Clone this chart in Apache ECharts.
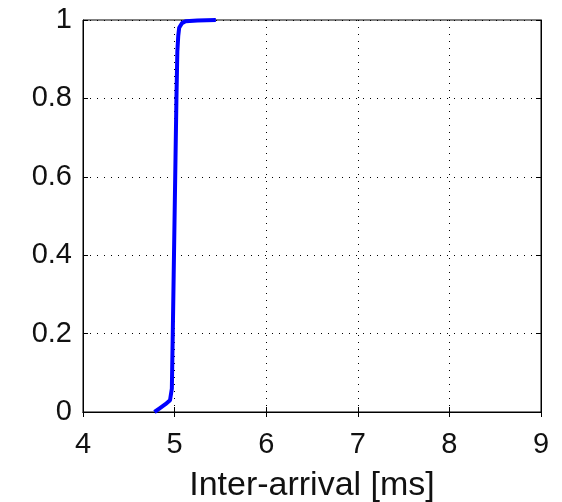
<!DOCTYPE html>
<html>
<head>
<meta charset="utf-8">
<title>CDF</title>
<script src="https://cdn.jsdelivr.net/npm/echarts@6/dist/echarts.min.js"></script>
<style>
  html, body { margin: 0; padding: 0; background: #fff; }
  #main { width: 562px; height: 502px; }
</style>
</head>
<body>
<div id="main"></div>
<script>
// inter-arrival time (ms) and cumulative probability
var interArrival = [4.78, 4.84, 4.90, 4.95, 4.97, 4.98, 4.99, 5.00, 5.01, 5.02, 5.03, 5.04, 5.05, 5.08, 5.12, 5.25, 5.45];
var cdf          = [0.00, 0.01, 0.02, 0.03, 0.06, 0.20, 0.35, 0.50, 0.65, 0.80, 0.92, 0.96, 0.98, 0.992, 0.997, 0.999, 1.00];
var xTicks = [4, 5, 6, 7, 8, 9];
var yTicks = [0, 0.2, 0.4, 0.6, 0.8, 1];

var points = [];
for (var i = 0; i < interArrival.length; i++) {
    points.push([interArrival[i], cdf[i]]);
}

var labelFont = { color: '#111', fontSize: 29, fontFamily: 'Liberation Sans' };
var chart = echarts.init(document.getElementById('main'));
chart.setOption({
    animation: false,
    grid: {
        left: 83, top: 20, width: 458, height: 392,
        outerBoundsMode: 'none', containLabel: false,
        show: true, borderColor: '#000', borderWidth: 1, backgroundColor: '#fff'
    },
    xAxis: [{
        type: 'value', min: 4, max: 9, interval: 1,
        name: 'Inter-arrival [ms]', nameLocation: 'middle', nameGap: 57,
        nameTextStyle: { color: '#111', fontSize: 34, fontFamily: 'Liberation Sans' },
        axisLine: { show: true, lineStyle: { color: '#000', width: 1 } },
        axisTick: { inside: true, length: 5, lineStyle: { color: '#000' } },
        axisLabel: Object.assign({ margin: 18, formatter: function (v) { return xTicks.indexOf(v) >= 0 ? String(v) : ''; } }, labelFont),
        splitLine: { show: true, lineStyle: { color: '#000', type: [1, 6], width: 1 } }
    }, {
        type: 'value', position: 'top', min: 4, max: 9, interval: 1,
        axisLine: { show: true, lineStyle: { color: '#000' } },
        axisTick: { inside: true, length: 5, lineStyle: { color: '#000' } },
        axisLabel: { show: false }, splitLine: { show: false }
    }],
    yAxis: [{
        type: 'value', min: 0, max: 1, interval: 0.2,
        axisLine: { show: true, lineStyle: { color: '#000', width: 1 } },
        axisTick: { inside: true, length: 5, lineStyle: { color: '#000' } },
        axisLabel: Object.assign({ margin: 11, formatter: function (v) { return yTicks.indexOf(Math.round(v * 10) / 10) >= 0 ? String(Math.round(v * 10) / 10) : ''; } }, labelFont),
        splitLine: { show: true, lineStyle: { color: '#000', type: [1, 6], width: 1 } }
    }, {
        type: 'value', position: 'right', min: 0, max: 1, interval: 0.2,
        axisLine: { show: true, lineStyle: { color: '#000' } },
        axisTick: { inside: true, length: 5, lineStyle: { color: '#000' } },
        axisLabel: { show: false }, splitLine: { show: false }
    }],
    series: [{
        type: 'line',
        data: points,
        showSymbol: false,
        clip: false,
        lineStyle: { color: '#0000ff', width: 4 }
    }]
});
</script>
</body>
</html>
